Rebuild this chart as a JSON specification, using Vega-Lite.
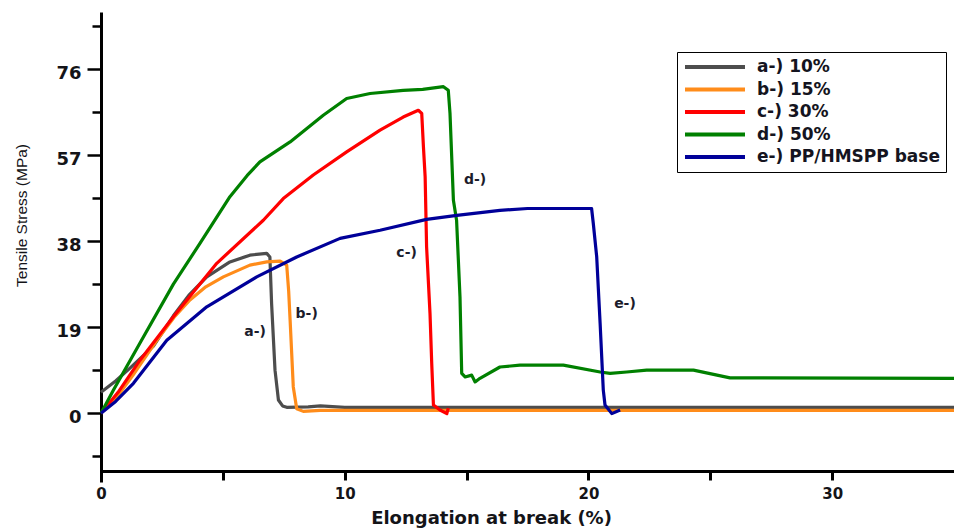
{
  "$schema": "https://vega.github.io/schema/vega-lite/v6.json",
  "width": 853,
  "height": 470,
  "autosize": {"type": "none"},
  "padding": {"left": 101, "top": 12, "right": 0, "bottom": 47},
  "background": "white",
  "config": {"view": {"stroke": null}, "font": "DejaVu Sans"},
  "layer": [
    {
      "data": {
        "values": [
          {"series": "a-) 10%", "x": 0, "y": 4.6},
          {"series": "a-) 10%", "x": 0.6, "y": 7.1},
          {"series": "a-) 10%", "x": 1.2, "y": 10.0},
          {"series": "a-) 10%", "x": 2.15, "y": 14.8},
          {"series": "a-) 10%", "x": 2.97, "y": 21.5},
          {"series": "a-) 10%", "x": 3.6, "y": 26.0},
          {"series": "a-) 10%", "x": 4.34, "y": 30.1},
          {"series": "a-) 10%", "x": 5.29, "y": 33.4},
          {"series": "a-) 10%", "x": 6.11, "y": 34.9},
          {"series": "a-) 10%", "x": 6.8, "y": 35.3},
          {"series": "a-) 10%", "x": 6.93, "y": 34.5},
          {"series": "a-) 10%", "x": 7.0, "y": 24.2},
          {"series": "a-) 10%", "x": 7.14, "y": 9.5},
          {"series": "a-) 10%", "x": 7.28, "y": 2.9},
          {"series": "a-) 10%", "x": 7.45, "y": 1.6},
          {"series": "a-) 10%", "x": 7.62, "y": 1.3},
          {"series": "a-) 10%", "x": 8.5, "y": 1.4},
          {"series": "a-) 10%", "x": 9.0, "y": 1.6},
          {"series": "a-) 10%", "x": 10, "y": 1.3},
          {"series": "a-) 10%", "x": 20, "y": 1.3},
          {"series": "a-) 10%", "x": 35, "y": 1.3},
          {"series": "b-) 15%", "x": 0, "y": 0},
          {"series": "b-) 15%", "x": 0.6, "y": 3.2},
          {"series": "b-) 15%", "x": 1.3, "y": 8.3},
          {"series": "b-) 15%", "x": 2.29, "y": 16.1},
          {"series": "b-) 15%", "x": 3.0, "y": 21.2},
          {"series": "b-) 15%", "x": 3.65, "y": 25.0},
          {"series": "b-) 15%", "x": 4.3, "y": 27.9},
          {"series": "b-) 15%", "x": 5.02, "y": 30.1},
          {"series": "b-) 15%", "x": 6.11, "y": 32.7},
          {"series": "b-) 15%", "x": 6.8, "y": 33.4},
          {"series": "b-) 15%", "x": 7.35, "y": 33.6},
          {"series": "b-) 15%", "x": 7.62, "y": 32.7},
          {"series": "b-) 15%", "x": 7.7, "y": 27.0},
          {"series": "b-) 15%", "x": 7.76, "y": 20.5},
          {"series": "b-) 15%", "x": 7.89, "y": 5.8},
          {"series": "b-) 15%", "x": 8.03, "y": 1.0},
          {"series": "b-) 15%", "x": 8.3, "y": 0.4},
          {"series": "b-) 15%", "x": 9, "y": 0.6},
          {"series": "b-) 15%", "x": 35, "y": 0.6},
          {"series": "c-) 30%", "x": 0, "y": 0},
          {"series": "c-) 30%", "x": 0.7, "y": 4.6},
          {"series": "c-) 30%", "x": 1.6, "y": 11.7},
          {"series": "c-) 30%", "x": 2.97, "y": 21.3},
          {"series": "c-) 30%", "x": 4.75, "y": 33.1},
          {"series": "c-) 30%", "x": 6.66, "y": 42.6},
          {"series": "c-) 30%", "x": 7.48, "y": 47.4},
          {"series": "c-) 30%", "x": 8.71, "y": 52.6},
          {"series": "c-) 30%", "x": 10.08, "y": 57.7},
          {"series": "c-) 30%", "x": 11.45, "y": 62.5},
          {"series": "c-) 30%", "x": 12.4, "y": 65.4},
          {"series": "c-) 30%", "x": 13.02, "y": 66.9},
          {"series": "c-) 30%", "x": 13.16, "y": 66.2},
          {"series": "c-) 30%", "x": 13.23, "y": 58.8},
          {"series": "c-) 30%", "x": 13.3, "y": 52.2},
          {"series": "c-) 30%", "x": 13.36, "y": 36.7},
          {"series": "c-) 30%", "x": 13.5, "y": 22.0},
          {"series": "c-) 30%", "x": 13.57, "y": 11.0},
          {"series": "c-) 30%", "x": 13.64, "y": 1.8},
          {"series": "c-) 30%", "x": 13.91, "y": 0.7},
          {"series": "c-) 30%", "x": 14.19, "y": -0.1},
          {"series": "c-) 30%", "x": 14.25, "y": 1.1},
          {"series": "d-) 50%", "x": 0, "y": 0},
          {"series": "d-) 50%", "x": 0.5, "y": 5.0},
          {"series": "d-) 50%", "x": 1.6, "y": 15.5},
          {"series": "d-) 50%", "x": 2.97, "y": 28.5},
          {"series": "d-) 50%", "x": 4.06, "y": 37.5},
          {"series": "d-) 50%", "x": 5.29, "y": 47.8},
          {"series": "d-) 50%", "x": 6.0, "y": 52.5},
          {"series": "d-) 50%", "x": 6.52, "y": 55.5},
          {"series": "d-) 50%", "x": 7.76, "y": 59.9},
          {"series": "d-) 50%", "x": 9.12, "y": 65.8},
          {"series": "d-) 50%", "x": 10.08, "y": 69.5},
          {"series": "d-) 50%", "x": 11.04, "y": 70.6},
          {"series": "d-) 50%", "x": 12.4, "y": 71.3},
          {"series": "d-) 50%", "x": 13.2, "y": 71.5},
          {"series": "d-) 50%", "x": 14.05, "y": 72.1},
          {"series": "d-) 50%", "x": 14.25, "y": 71.3},
          {"series": "d-) 50%", "x": 14.32, "y": 66.2},
          {"series": "d-) 50%", "x": 14.46, "y": 47.0},
          {"series": "d-) 50%", "x": 14.59, "y": 42.6},
          {"series": "d-) 50%", "x": 14.73, "y": 25.7},
          {"series": "d-) 50%", "x": 14.8, "y": 8.8},
          {"series": "d-) 50%", "x": 14.94, "y": 8.0},
          {"series": "d-) 50%", "x": 15.21, "y": 8.4},
          {"series": "d-) 50%", "x": 15.35, "y": 6.9},
          {"series": "d-) 50%", "x": 15.55, "y": 7.7},
          {"series": "d-) 50%", "x": 16.37, "y": 10.2},
          {"series": "d-) 50%", "x": 17.19, "y": 10.6},
          {"series": "d-) 50%", "x": 18.97, "y": 10.6},
          {"series": "d-) 50%", "x": 20.48, "y": 9.1},
          {"series": "d-) 50%", "x": 20.89, "y": 8.8},
          {"series": "d-) 50%", "x": 21.57, "y": 9.1},
          {"series": "d-) 50%", "x": 22.39, "y": 9.5},
          {"series": "d-) 50%", "x": 24.31, "y": 9.5},
          {"series": "d-) 50%", "x": 25.81, "y": 7.8},
          {"series": "d-) 50%", "x": 35, "y": 7.7},
          {"series": "e-) PP/HMSPP base", "x": 0, "y": 0},
          {"series": "e-) PP/HMSPP base", "x": 0.6, "y": 2.6},
          {"series": "e-) PP/HMSPP base", "x": 1.33, "y": 6.6},
          {"series": "e-) PP/HMSPP base", "x": 2.7, "y": 16.1},
          {"series": "e-) PP/HMSPP base", "x": 4.34, "y": 23.5},
          {"series": "e-) PP/HMSPP base", "x": 6.39, "y": 30.1},
          {"series": "e-) PP/HMSPP base", "x": 8.03, "y": 34.5},
          {"series": "e-) PP/HMSPP base", "x": 9.81, "y": 38.6},
          {"series": "e-) PP/HMSPP base", "x": 11.45, "y": 40.4},
          {"series": "e-) PP/HMSPP base", "x": 13.36, "y": 42.8},
          {"series": "e-) PP/HMSPP base", "x": 14.6, "y": 43.7},
          {"series": "e-) PP/HMSPP base", "x": 16.37, "y": 44.8},
          {"series": "e-) PP/HMSPP base", "x": 17.5, "y": 45.2},
          {"series": "e-) PP/HMSPP base", "x": 18.83, "y": 45.2},
          {"series": "e-) PP/HMSPP base", "x": 20.13, "y": 45.2},
          {"series": "e-) PP/HMSPP base", "x": 20.2, "y": 41.9},
          {"series": "e-) PP/HMSPP base", "x": 20.34, "y": 34.5},
          {"series": "e-) PP/HMSPP base", "x": 20.48, "y": 19.8},
          {"series": "e-) PP/HMSPP base", "x": 20.61, "y": 5.1},
          {"series": "e-) PP/HMSPP base", "x": 20.68, "y": 1.8},
          {"series": "e-) PP/HMSPP base", "x": 20.96, "y": -0.1},
          {"series": "e-) PP/HMSPP base", "x": 21.3, "y": 0.7}
        ]
      },
      "mark": {"type": "line", "strokeWidth": 3.2, "strokeJoin": "round"},
      "encoding": {
        "x": {
          "field": "x", "type": "quantitative",
          "scale": {"domain": [0, 35], "nice": false, "zero": false},
          "axis": {
            "values": [0, 5, 10, 15, 20, 25, 30], "grid": false, "offset": -11, "orient": "bottom",
            "labelExpr": "datum.value % 10 === 0 ? datum.label : ''",
            "domainColor": "black", "domainWidth": 3, "tickColor": "#000000", "tickWidth": 3, "tickSize": 9,
            "labelFont": "DejaVu Sans", "labelFontWeight": "bold", "labelFontSize": 15, "labelColor": "#141418", "labelPadding": 6, "labelFlush": false,
            "title": "Elongation at break (%)", "titleFont": "DejaVu Sans", "titleFontWeight": "bold", "titleFontSize": 18, "titleColor": "#141418",
            "titleX": 390, "titleY": 47, "titleAlign": "center", "titleBaseline": "middle"
          }
        },
        "y": {
          "field": "y", "type": "quantitative",
          "scale": {"domain": [-15.2, 88.6], "nice": false, "zero": false},
          "axis": {
            "values": [0, 19, 38, 57, 76], "grid": false, "orient": "left",
            "domainColor": "black", "domainWidth": 3, "tickColor": "black", "tickWidth": 2.5, "tickSize": 14,
            "labelFont": "DejaVu Sans", "labelFontWeight": "bold", "labelFontSize": 18, "labelColor": "#141418", "labelPadding": 6, "labelOffset": 4,
            "title": "Tensile Stress (MPa)", "titleFont": "Liberation Sans", "titleFontWeight": "normal", "titleFontSize": 15.5, "titleColor": "#141418",
            "titleAngle": -90, "titleX": -80, "titleY": 203, "titleAlign": "center", "titleBaseline": "middle"
          }
        },
        "color": {
          "field": "series", "type": "nominal",
          "scale": {
            "domain": ["a-) 10%", "b-) 15%", "c-) 30%", "d-) 50%", "e-) PP/HMSPP base"],
            "range": ["#4d4d4d", "#ff8c1a", "#ff0000", "#008000", "#000099"]
          },
          "legend": {
            "orient": "none", "legendX": 576, "legendY": 40, "title": null,
            "symbolType": "stroke", "symbolSize": 3600, "symbolStrokeWidth": 4,
            "labelFont": "DejaVu Sans", "labelFontWeight": "bold", "labelFontSize": 17, "labelColor": "#141420",
            "labelOffset": 10, "labelLimit": 400, "clipHeight": 18, "rowPadding": 4.5, "padding": 6,
            "strokeColor": "black", "fillColor": "white"
          }
        }
      }
    },
    {
      "data": {
        "values": [
          {"t": "a-)", "x": 6.32, "y": 18.0},
          {"t": "b-)", "x": 8.44, "y": 22.0},
          {"t": "c-)", "x": 12.54, "y": 35.3},
          {"t": "d-)", "x": 15.35, "y": 51.5},
          {"t": "e-)", "x": 21.5, "y": 24.2}
        ]
      },
      "mark": {"type": "text", "font": "DejaVu Sans", "fontWeight": "bold", "fontSize": 14, "color": "#1c1c2c"},
      "encoding": {
        "x": {
          "field": "x", "type": "quantitative",
          "axis": null
        },
        "y": {
          "field": "y", "type": "quantitative",
          "axis": {"values": [-9.5, 9.5, 28.5, 47.5, 66.5, 85.5], "orient": "left", "grid": false, "domain": false, "labels": false, "title": null,
                   "tickColor": "black", "tickWidth": 2.5, "tickSize": 9}
        },
        "text": {"field": "t"}
      }
    }
  ],
  "resolve": {"axis": {"x": "independent", "y": "independent"}}
}
